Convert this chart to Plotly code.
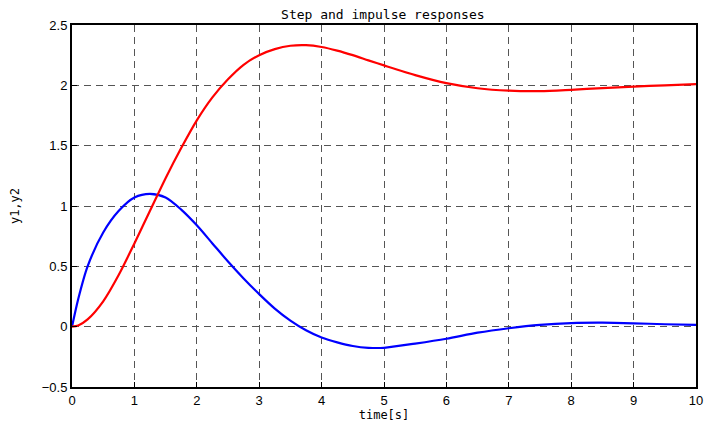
import plotly.graph_objects as go

t_vals = [0, 0.1, 0.25, 0.5, 0.75, 1.0, 1.25, 1.5, 1.75, 2.0, 2.25, 2.5, 2.75, 3.0, 3.25, 3.5,
          3.75, 4.0, 4.25, 4.5, 4.75, 5.0, 5.5, 6.0, 6.5, 7.0, 7.5, 8.0, 8.5, 9.0, 9.5, 10.0]
y_step = [0, 0.01, 0.06, 0.21, 0.43, 0.69, 0.96, 1.23, 1.48, 1.71, 1.90, 2.05, 2.17, 2.25, 2.30, 2.328,
          2.333, 2.318, 2.288, 2.25, 2.207, 2.165, 2.085, 2.018, 1.976, 1.956, 1.952, 1.963, 1.977, 1.99, 2.0, 2.01]
y_impulse = [0, 0.23, 0.50, 0.78, 0.96, 1.07, 1.10, 1.07, 0.97, 0.84, 0.69, 0.54, 0.40, 0.27, 0.15, 0.05,
             -0.03, -0.09, -0.13, -0.16, -0.175, -0.175, -0.14, -0.10, -0.05, -0.013, 0.015, 0.03, 0.033, 0.028, 0.02, 0.015]

x_ticks = [0, 1, 2, 3, 4, 5, 6, 7, 8, 9, 10]
y_ticks = [-0.5, 0, 0.5, 1, 1.5, 2, 2.5]
y_ticktext = ["\u22120.5", "0", "0.5", "1", "1.5", "2", "2.5"]

fig = go.Figure()
fig.add_trace(go.Scatter(x=t_vals, y=y_impulse, mode="lines",
                         line=dict(color="#0000ff", width=2.2, shape="spline", smoothing=0.8)))
fig.add_trace(go.Scatter(x=t_vals, y=y_step, mode="lines",
                         line=dict(color="#ff0000", width=2.2, shape="spline", smoothing=0.8)))

axis_common = dict(showline=True, mirror=True, linecolor="black", linewidth=2,
                   showgrid=True, gridcolor="#555555", griddash="7px,5px", gridwidth=1,
                   ticks="inside", ticklen=5, tickcolor="black", zeroline=False, automargin=False,
                   tickfont=dict(family="Liberation Sans, Arial, sans-serif", size=13, color="black"))

label_font = dict(family="DejaVu Sans Mono, monospace", size=12, color="black")

fig.update_layout(
    width=705, height=425,
    margin=dict(l=72, r=9, t=25, b=38),
    paper_bgcolor="white", plot_bgcolor="white",
    showlegend=False,
    title=dict(text="Step and impulse responses", x=0.543, xanchor="center", y=0.967, yanchor="middle",
               font=dict(family="DejaVu Sans Mono, monospace", size=13, color="black")),
    xaxis=dict(range=[0, 10], tickvals=x_ticks, ticktext=[str(v) for v in x_ticks],
               title=dict(text="time[s]", standoff=2, font=label_font),
               **axis_common),
    yaxis=dict(range=[-0.5, 2.5], tickvals=y_ticks, ticktext=y_ticktext,
               title=dict(text="y1,y2", standoff=20, font=label_font),
               **axis_common),
)

fig.write_html("out.html")
